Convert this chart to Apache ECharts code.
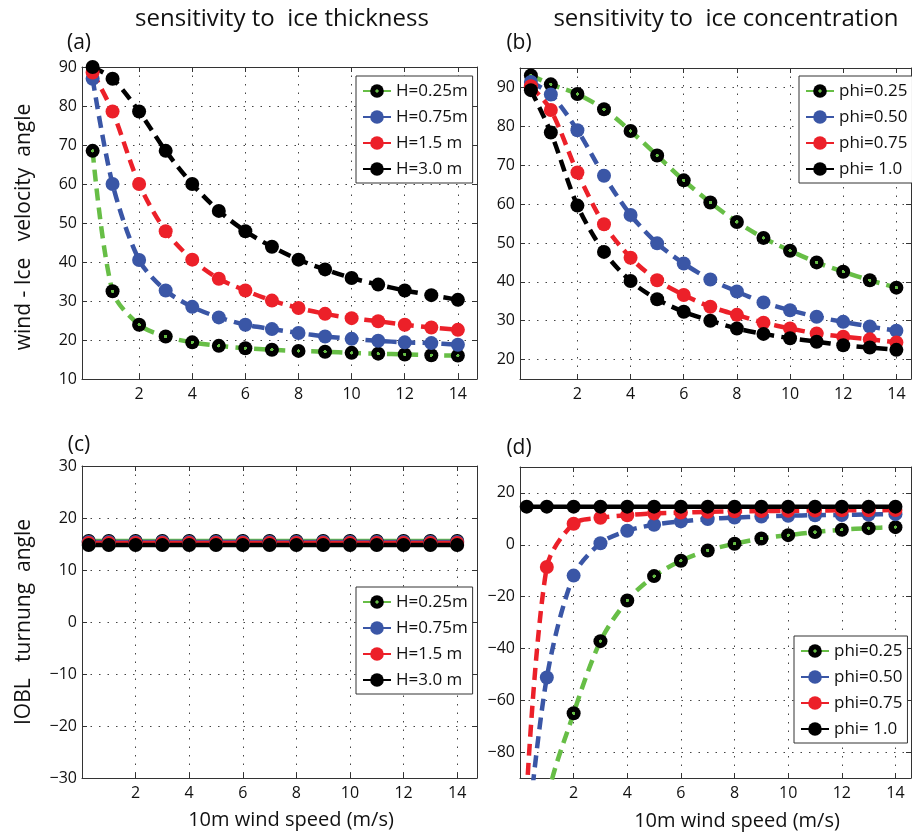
<!DOCTYPE html>
<html><head><meta charset="utf-8">
<script src="https://cdn.jsdelivr.net/npm/echarts@6/dist/echarts.min.js"></script>
<style>html,body{margin:0;padding:0;background:#fff}#c{width:912px;height:834px}</style>
</head><body><div id="c"></div>
<script>
// ---------- data ----------
const windSpeed = [0.25, 1, 2, 3, 4, 5, 6, 7, 8, 9, 10, 11, 12, 13, 14];

// (a) wind - ice velocity angle, sensitivity to ice thickness
const angleH025 = [68.5, 32.5, 23.9, 20.9, 19.4, 18.5, 17.9, 17.5, 17.2, 17.0, 16.7, 16.5, 16.3, 16.1, 16.0];
const angleH075 = [87.0, 60.0, 40.5, 32.7, 28.5, 25.8, 23.9, 22.8, 21.8, 20.9, 20.3, 19.8, 19.4, 19.2, 18.8];
const angleH15  = [88.6, 78.6, 60.0, 47.9, 40.6, 35.7, 32.7, 30.1, 28.2, 26.7, 25.6, 24.8, 23.9, 23.2, 22.6];
const angleH30  = [90.0, 87.0, 78.6, 68.5, 60.0, 53.1, 47.9, 43.9, 40.6, 38.1, 35.9, 34.2, 32.7, 31.5, 30.3];

// (b) wind - ice velocity angle, sensitivity to ice concentration
const anglePhi025 = [93.1, 90.8, 88.3, 84.4, 78.8, 72.5, 66.1, 60.4, 55.4, 51.3, 48.0, 45.0, 42.6, 40.4, 38.5];
const anglePhi050 = [91.4, 88.2, 79.0, 67.3, 57.2, 49.9, 44.7, 40.6, 37.5, 34.7, 32.7, 31.0, 29.7, 28.5, 27.4];
const anglePhi075 = [90.3, 84.2, 68.1, 54.8, 46.2, 40.4, 36.6, 33.6, 31.5, 29.5, 28.0, 26.7, 25.9, 25.2, 24.4];
const anglePhi100 = [89.3, 78.4, 59.6, 47.7, 40.2, 35.5, 32.3, 30.0, 28.0, 26.6, 25.5, 24.6, 23.7, 23.1, 22.5];

// (c) IOBL turning angle, sensitivity to ice thickness
const turnH025 = [15.6, 15.6, 15.6, 15.6, 15.6, 15.6, 15.6, 15.6, 15.6, 15.6, 15.6, 15.6, 15.6, 15.6, 15.6];
const turnH075 = [15.4, 15.4, 15.4, 15.4, 15.4, 15.4, 15.4, 15.4, 15.4, 15.4, 15.4, 15.4, 15.4, 15.4, 15.4];
const turnH15  = [15.2, 15.2, 15.2, 15.2, 15.2, 15.2, 15.2, 15.2, 15.2, 15.2, 15.2, 15.2, 15.2, 15.2, 15.2];
const turnH30  = [14.8, 14.8, 14.8, 14.8, 14.8, 14.8, 14.8, 14.8, 14.8, 14.8, 14.8, 14.8, 14.8, 14.8, 14.8];

// (d) IOBL turning angle, sensitivity to ice concentration (first values are below the axis)
const turnPhi025 = [-200, -100, -65.0, -37.2, -21.5, -12.1, -6.2, -2.2, 0.4, 2.4, 3.7, 4.9, 5.8, 6.4, 6.8];
const turnPhi050 = [-115, -51.2, -11.9, 0.6, 5.4, 7.7, 9.0, 9.9, 10.5, 10.9, 11.2, 11.4, 11.5, 11.7, 11.8];
const turnPhi075 = [-96, -8.6, 8.1, 10.4, 11.4, 12.1, 12.4, 12.7, 12.9, 13.0, 13.1, 13.2, 13.3, 13.3, 13.4];
const turnPhi100 = [14.7, 14.7, 14.7, 14.7, 14.7, 14.7, 14.7, 14.7, 14.7, 14.7, 14.7, 14.7, 14.7, 14.7, 14.7];

const namesH = ['H=0.25m', 'H=0.75m', 'H=1.5 m', 'H=3.0 m'];
const namesPhi = ['phi=0.25', 'phi=0.50', 'phi=0.75', 'phi= 1.0'];

// tick labels
const xTicks = [2, 4, 6, 8, 10, 12, 14];
const yTicksA = [10, 20, 30, 40, 50, 60, 70, 80, 90];
const yTicksB = [20, 30, 40, 50, 60, 70, 80, 90];
const yTicksC = [-30, -20, -10, 0, 10, 20, 30];
const yTicksD = [-80, -60, -40, -20, 0, 20];

// ---------- styling / layout ----------
const FONT = 'Open Sans';
const AX = '#333';
const TXT = '#111';
const GREEN = '#67be46', BLUE = '#3a56a6', RED = '#ec2029', BLACK = '#000000';
const greenDot = {type: 'radial', x: 0.5, y: 0.5, r: 0.5, colorStops: [
  {offset: 0, color: GREEN}, {offset: 0.22, color: GREEN},
  {offset: 0.25, color: BLACK}, {offset: 1, color: BLACK}]};

const grids = [
  {left: 82, top: 67, width: 395, height: 312},
  {left: 520, top: 68, width: 391, height: 311},
  {left: 82, top: 466, width: 395, height: 312},
  {left: 520, top: 467, width: 391, height: 311}
];
const xRange = [[-0.15, 14.72], [-0.16, 14.55], [0, 14.74], [0, 14.58]];
const yRange = [[10, 90], [15, 95], [-30, 30], [-90, 30]];
const yTicks = [yTicksA, yTicksB, yTicksC, yTicksD];

const fmt = v => String(v).replace('-', '\u2212');

const xAxes = [], yAxes = [];
for (let g = 0; g < 4; g++) {
  for (const main of [true, false]) {
    xAxes.push({
      type: 'value', gridIndex: g, min: xRange[g][0], max: xRange[g][1],
      position: main ? 'bottom' : 'top',
      axisLine: {show: true, onZero: false, lineStyle: {color: AX, width: 1}},
      axisTick: {show: true, inside: true, length: 5, customValues: xTicks, lineStyle: {color: AX}},
      axisLabel: {show: main, customValues: xTicks, margin: 7, color: TXT, fontSize: 16, fontFamily: FONT, formatter: fmt},
      splitLine: {show: main, lineStyle: {type: [1.5, 7], color: '#444', width: 1}}
    });
    const yn = (main && g === 0) ? 'wind - Ice   velocity  angle' : (main && g === 2) ? 'IOBL   turnung  angle' : '';
    yAxes.push({
      type: 'value', gridIndex: g, min: yRange[g][0], max: yRange[g][1],
      position: main ? 'left' : 'right',
      axisLine: {show: true, onZero: false, lineStyle: {color: AX, width: 1}},
      axisTick: {show: true, inside: true, length: 5, customValues: yTicks[g], lineStyle: {color: AX}},
      axisLabel: {show: main, customValues: yTicks[g], margin: 5, color: TXT, fontSize: 16, fontFamily: FONT, formatter: fmt},
      splitLine: {show: main, lineStyle: {type: [1.5, 7], color: '#444', width: 1}},
      name: yn, nameLocation: 'middle', nameGap: 47,
      nameTextStyle: {fontSize: 21, fontFamily: FONT, color: TXT, padding: g === 0 ? [0, 8, 0, 0] : 0}
    });
  }
}

function mkSeries(name, g, vals, color, dotted, solid) {
  return {
    type: 'line', name: name, xAxisIndex: 2 * g, yAxisIndex: 2 * g,
    data: windSpeed.map((x, i) => [x, vals[i]]),
    symbol: 'circle', symbolSize: 14, showSymbol: true, smooth: 0.3, clip: true,
    lineStyle: {color: color, width: 4.5, type: solid ? 'solid' : [12, 7]},
    itemStyle: {color: dotted ? greenDot : color, borderWidth: 0},
    emphasis: {disabled: true}
  };
}

const colors = [GREEN, BLUE, RED, BLACK];
const panelData = [
  [angleH025, angleH075, angleH15, angleH30],
  [anglePhi025, anglePhi050, anglePhi075, anglePhi100],
  [turnH025, turnH075, turnH15, turnH30],
  [turnPhi025, turnPhi050, turnPhi075, turnPhi100]
];
const series = [];
for (let g = 0; g < 4; g++) {
  const names = (g % 2 === 0) ? namesH : namesPhi;
  for (let k = 0; k < 4; k++) {
    const solid = (g === 2) || (g === 3 && k === 3);
    series.push(mkSeries(names[k], g, panelData[g][k], colors[k], k === 0, solid));
  }
}

function mkLegend(names, left, top) {
  return {
    orient: 'vertical', left: left, top: top,
    data: names.map(n => ({name: n, itemStyle: {borderWidth: 0}, lineStyle: {type: [12, 7]}})),
    selectedMode: false,
    backgroundColor: '#fff', borderColor: '#333', borderWidth: 1, borderRadius: 0,
    padding: [6, 5, 5, 6], itemGap: 8, itemWidth: 28, itemHeight: 17,
    textStyle: {fontSize: 17, fontFamily: FONT, color: TXT, lineHeight: 18}, z: 10
  };
}

function mkText(text, x, y, size) {
  return {text: text, left: x, top: y, textAlign: 'center', textVerticalAlign: 'middle', padding: 0,
    textStyle: {fontSize: size, fontWeight: 'normal', fontFamily: FONT, color: TXT}};
}

const option = {
  animation: false,
  backgroundColor: '#fff',
  title: [
    mkText('sensitivity to  ice thickness', 282, 19, 24),
    mkText('sensitivity to  ice concentration', 726, 19, 24),
    mkText('(a)', 79, 43, 21),
    mkText('(b)', 519, 43, 21),
    mkText('(c)', 79, 445, 21),
    mkText('(d)', 519, 448, 21),
    mkText('10m wind speed (m/s)', 291, 820, 20),
    mkText('10m wind speed (m/s)', 737, 821, 20)
  ],
  grid: grids,
  xAxis: xAxes,
  yAxis: yAxes,
  legend: [
    mkLegend(namesH, 356, 76),
    mkLegend(namesPhi, 799, 76),
    mkLegend(namesH, 356, 587),
    mkLegend(namesPhi, 794, 636)
  ],
  series: series
};

const chart = echarts.init(document.getElementById('c'), null, {renderer: 'canvas'});
chart.setOption(option);
</script>
</body></html>
